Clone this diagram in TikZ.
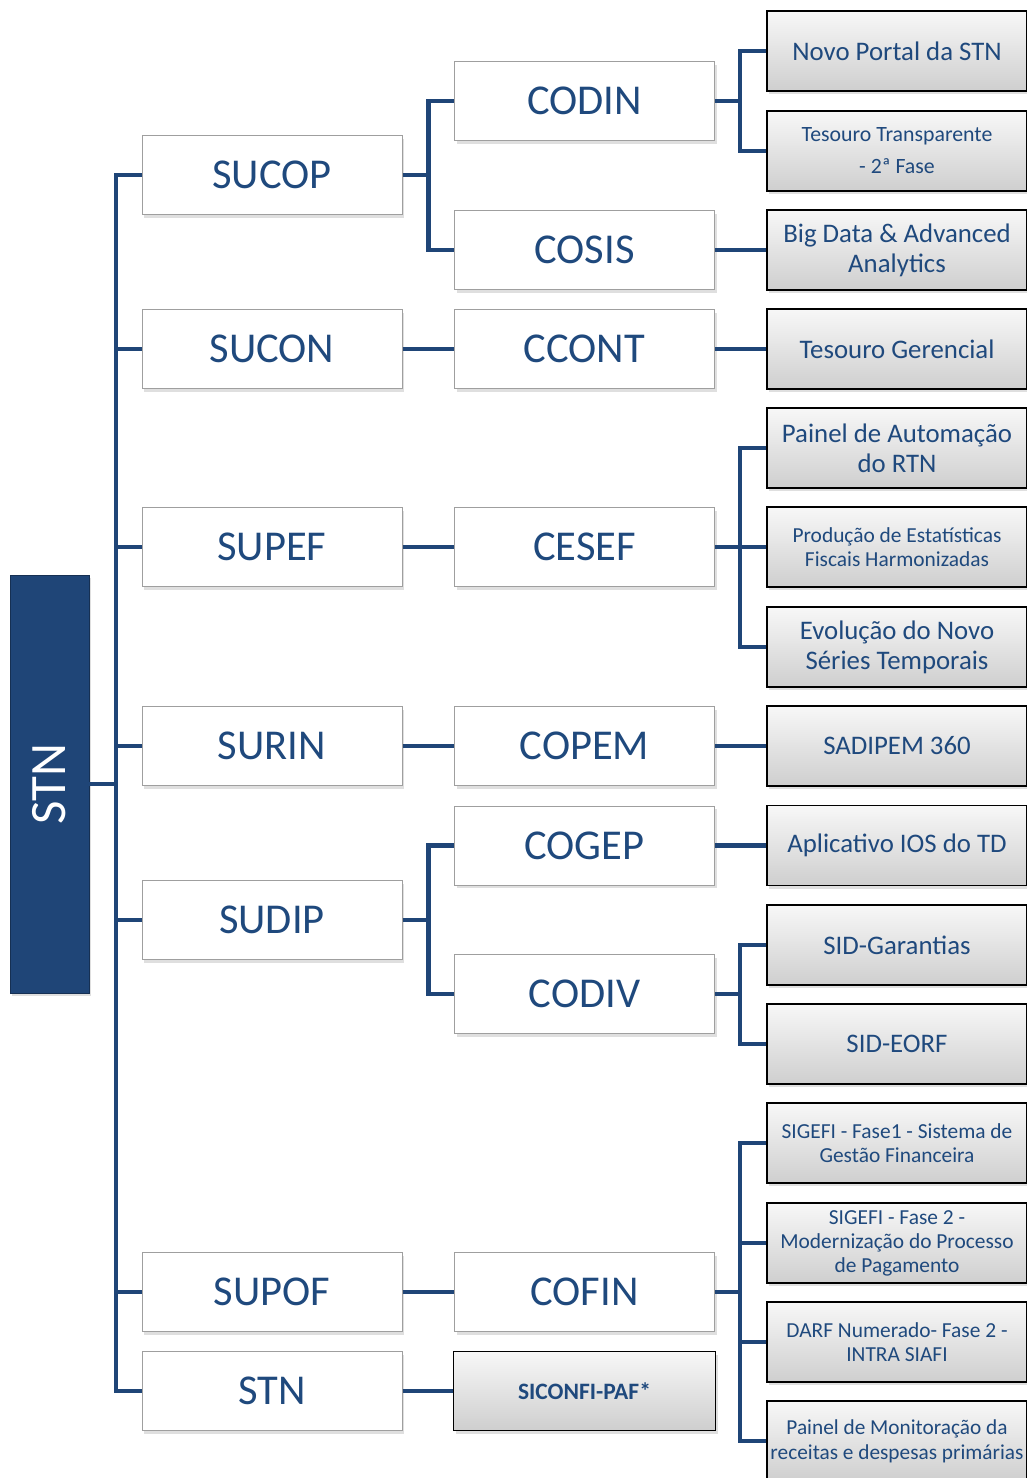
\documentclass[tikz,border=0pt]{standalone}
\usepackage{fontspec}
\setmainfont{Carlito}
\usetikzlibrary{shadows}
\definecolor{navy}{HTML}{1F4577}
\definecolor{txt}{HTML}{1F497D}
\begin{document}
\begin{tikzpicture}[x=1pt,y=-1pt,
  lvl/.style={draw=gray!75, line width=1pt, fill=white, minimum width=260pt, minimum height=79pt, inner sep=0pt, text=txt, font=\fontsize{42.5}{48}\selectfont, drop shadow={opacity=0.25, shadow xshift=2pt, shadow yshift=-3pt}},
  leaf/.style={draw=black, line width=1.5pt, top color=gray!6, bottom color=gray!38, minimum width=260pt, minimum height=80pt, inner sep=0pt, text=txt, align=center, font=\fontsize{26.8}{30}\selectfont, drop shadow={opacity=0.25, shadow xshift=2pt, shadow yshift=-3pt}},
  sm/.style={font=\fontsize{21.4}{24}\selectfont},
  conn/.style={draw=navy, line width=4.5pt}
]
\useasboundingbox (0,0) rectangle (1026,1478);
\fill[white] (0,0) rectangle (1026,1478);

% root
\node[draw=navy!70!black, fill=navy, minimum width=79pt, minimum height=418pt, inner sep=0pt, drop shadow={opacity=0.25, shadow xshift=2pt, shadow yshift=-3pt}] (root) at (49.5,784) {};
\node[rotate=90, text=white, font=\fontsize{51}{56}\selectfont] (rootlbl) at (root.center) {STN};

% level 1
\node[lvl] (sucop) at (272,175) {SUCOP};
\node[lvl] (sucon) at (272,349) {SUCON};
\node[lvl] (supef) at (272,547) {SUPEF};
\node[lvl] (surin) at (272,746) {SURIN};
\node[lvl] (sudip) at (272,920) {SUDIP};
\node[lvl] (supof) at (272,1292) {SUPOF};
\node[lvl] (stnb) at (272,1391) {STN};

% level 2
\node[lvl] (codin) at (584.5,101) {CODIN};
\node[lvl] (cosis) at (584.5,250) {COSIS};
\node[lvl] (ccont) at (584.5,349) {CCONT};
\node[lvl] (cesef) at (584.5,547) {CESEF};
\node[lvl] (copem) at (584.5,746) {COPEM};
\node[lvl] (cogep) at (584.5,845.5) {COGEP};
\node[lvl] (codiv) at (584.5,994) {CODIV};
\node[lvl] (cofin) at (584.5,1292) {COFIN};
\node[leaf, font=\fontsize{23.5}{28}\selectfont\bfseries, minimum width=262pt, minimum height=79pt] (siconfi) at (584.5,1391) {SICONFI-PAF*};

% level 3
\node[leaf] (novo) at (897,51) {Novo Portal da STN};
\node[leaf, font=\fontsize{21.8}{32}\selectfont] (transp) at (897,151) {Tesouro Transparente\\- 2ª Fase};
\node[leaf] (bigdata) at (897,250) {Big Data \& Advanced\\Analytics};
\node[leaf] (gerencial) at (897,349) {Tesouro Gerencial};
\node[leaf] (painel) at (897,448) {Painel de Automação\\do RTN};
\node[leaf, sm] (producao) at (897,547) {Produção de Estatísticas\\Fiscais Harmonizadas};
\node[leaf] (evolucao) at (897,647) {Evolução do Novo\\Séries Temporais};
\node[leaf] (sadipem) at (897,746) {SADIPEM 360};
\node[leaf] (ios) at (897,845.5) {Aplicativo IOS do TD};
\node[leaf] (garantias) at (897,945) {SID-Garantias};
\node[leaf] (eorf) at (897,1044) {SID-EORF};
\node[leaf, sm] (sigefi1) at (897,1143) {SIGEFI - Fase1 - Sistema de\\Gestão Financeira};
\node[leaf, sm] (sigefi2) at (897,1243) {SIGEFI - Fase 2 -\\Modernização do Processo\\de Pagamento};
\node[leaf, sm] (darf) at (897,1342) {DARF Numerado- Fase 2 -\\INTRA SIAFI};
\node[leaf, font=\fontsize{21.3}{25}\selectfont] (monit) at (897,1441) {Painel de Monitoração da\\receitas e despesas primárias};

% trunk
\draw[conn] (root.east) -- ++(27,0) coordinate (t);
\foreach \n in {sucop,sucon,supef,surin,sudip,supof,stnb}
  \draw[conn] (t) |- (\n.west);

% level1 -> level2
\draw[conn] (sucop.east) -- ++(26,0) coordinate (f1);
\draw[conn] (f1) |- (codin.west);
\draw[conn] (f1) |- (cosis.west);
\draw[conn] (sucon.east) -- (ccont.west);
\draw[conn] (supef.east) -- (cesef.west);
\draw[conn] (surin.east) -- (copem.west);
\draw[conn] (sudip.east) -- ++(26,0) coordinate (f2);
\draw[conn] (f2) |- (cogep.west);
\draw[conn] (f2) |- (codiv.west);
\draw[conn] (supof.east) -- (cofin.west);
\draw[conn] (stnb.east) -- (siconfi.west);

% level2 -> level3
\draw[conn] (codin.east) -- ++(25,0) coordinate (g1);
\draw[conn] (g1) |- (novo.west);
\draw[conn] (g1) |- (transp.west);
\draw[conn] (cosis.east) -- (bigdata.west);
\draw[conn] (ccont.east) -- (gerencial.west);
\draw[conn] (cesef.east) -- ++(25,0) coordinate (g2);
\foreach \n in {painel,producao,evolucao}
  \draw[conn] (g2) |- (\n.west);
\draw[conn] (copem.east) -- (sadipem.west);
\draw[conn] (cogep.east) -- (ios.west);
\draw[conn] (codiv.east) -- ++(25,0) coordinate (g3);
\draw[conn] (g3) |- (garantias.west);
\draw[conn] (g3) |- (eorf.west);
\draw[conn] (cofin.east) -- ++(25,0) coordinate (g4);
\foreach \n in {sigefi1,sigefi2,darf,monit}
  \draw[conn] (g4) |- (\n.west);
\end{tikzpicture}
\end{document}
